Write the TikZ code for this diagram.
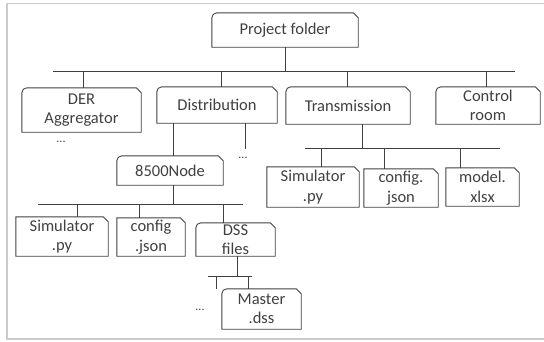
\documentclass[tikz,border=0pt]{standalone}
\usepackage{fontspec}
\setmainfont{Carlito}
\usetikzlibrary{calc}
\newcommand\boxfont{\fontsize{16.5}{19.5}\selectfont}
\def\drawfolder(#1){\draw[tree] (#1.south west) -- ($(#1.north west)+(0,-5pt)$) arc[start angle=180,end angle=90,radius=5pt] -- ($(#1.north east)+(-5pt,0)$) -- ($(#1.north east)+(0,-5pt)$) -- (#1.south east) -- cycle;}
\def\drawfile(#1){\draw[tree] (#1.south west) -- (#1.north west) -- ($(#1.north east)+(-5pt,0)$) -- ($(#1.north east)+(0,-5pt)$) -- (#1.south east) -- cycle;}
\tikzset{
	tree/.style={line width=0.9pt, color=black!75, line join=miter},
	box/.style={inner sep=0pt, align=center, text=black!75, font=\boxfont},
	dots/.style={inner sep=0pt, text=black!75, font=\fontsize{12}{12}\selectfont}
}

\begin{document}
\begin{tikzpicture}[x=1pt, y=-1pt]
			%%%%% START %%%%%
			\useasboundingbox (0, 0) rectangle (544, 341);
			\draw[line width=1.3pt, color=black!20] (560, 3.5) -- (7, 3.5) -- (7, 339) -- (560, 339);
			
			% folders
			\node[box, minimum width=146, minimum height=34] (proj) at (285, 30) {Project folder};
			\node[box, minimum width=119, minimum height=44] (der) at (81.5, 110) {DER\\Aggregator};
			\node[box, minimum width=120, minimum height=36] (dist) at (217, 105) {Distribution};
			\node[box, minimum width=124, minimum height=37] (trans) at (348, 105.5) {Transmission};
			\node[box, minimum width=104, minimum height=37] (ctrl) at (488, 105.5) {Control\\room};
			\node[box, minimum width=106, minimum height=29] (node8500) at (170, 170.5) {8500Node};
			\node[box, minimum width=79, minimum height=33] (dss) at (235.5, 239.5) {DSS\\files};
			\node[box, minimum width=79, minimum height=40] (master) at (261.5, 309) {Master\\.dss};
			
			\drawfolder(proj) \drawfolder(der) \drawfolder(dist) \drawfolder(trans)
			\drawfolder(ctrl) \drawfolder(node8500) \drawfolder(dss) \drawfolder(master)
			
			% files
			\node[box, minimum width=92, minimum height=39] (simD) at (62, 236.5) {Simulator\\.py};
			\node[box, minimum width=68, minimum height=38] (cfgD) at (151, 237) {config\\.json};
			\node[box, minimum width=92, minimum height=40] (simT) at (313, 187) {Simulator\\.py};
			\node[box, minimum width=74, minimum height=38] (cfgT) at (401, 188) {config.\\json};
			\node[box, minimum width=73, minimum height=38] (model) at (482.5, 187) {model.\\xlsx};
			
			\drawfile(simD) \drawfile(cfgD) \drawfile(simT) \drawfile(cfgT) \drawfile(model)
			
			\node[dots] (derMore) at (61, 142) {...};
			\node[dots] (distMore) at (243, 158) {...};
			\node[dots] (dssMore) at (200, 310) {...};
			
			% top level
			\coordinate (topL) at (53, 71);
			\coordinate (topR) at (515, 71);
			\draw[tree] (topL) -- (topR);
			\draw[tree] (proj.south) -- (proj.south |- topL);
			\foreach \n/\x in {der/83, dist/221, trans/347, ctrl/486}
				\draw[tree] (\x, 71) -- (\x, 71 |- \n.north);
			
			% distribution
			\coordinate (distA) at (173, 0);
			\coordinate (distB) at (245, 149);
			\draw[tree] (distA |- dist.south) -- (distA |- node8500.north);
			\draw[tree] (distB |- dist.south) -- (distB);
			
			\coordinate (nodeL) at (38, 204);
			\coordinate (nodeR) at (243, 204);
			\draw[tree] (nodeL) -- (nodeR);
			\draw[tree] (173, 0 |- node8500.south) -- (173, 204);
			\foreach \n/\x in {simD/77, cfgD/139, dss/223}
				\draw[tree] (\x, 204) -- (\x, 204 |- \n.north);
			
			\coordinate (dssL) at (208, 276);
			\coordinate (dssR) at (252, 276);
			\draw[tree] (dssL) -- (dssR);
			\draw[tree] (237, 0 |- dss.south) -- (237, 276);
			\draw[tree] (216, 276) -- (216, 289);
			\draw[tree] (248, 276) -- (248, 276 |- master.north);
			
			% transmission
			\coordinate (transL) at (305, 148);
			\coordinate (transR) at (500, 148);
			\draw[tree] (transL) -- (transR);
			\draw[tree] (362, 0 |- trans.south) -- (362, 148);
			\foreach \n/\x in {simT/321, cfgT/384, model/460}
				\draw[tree] (\x, 148) -- (\x, 148 |- \n.north);
			%%%%% END %%%%%
\end{tikzpicture}
\end{document}
